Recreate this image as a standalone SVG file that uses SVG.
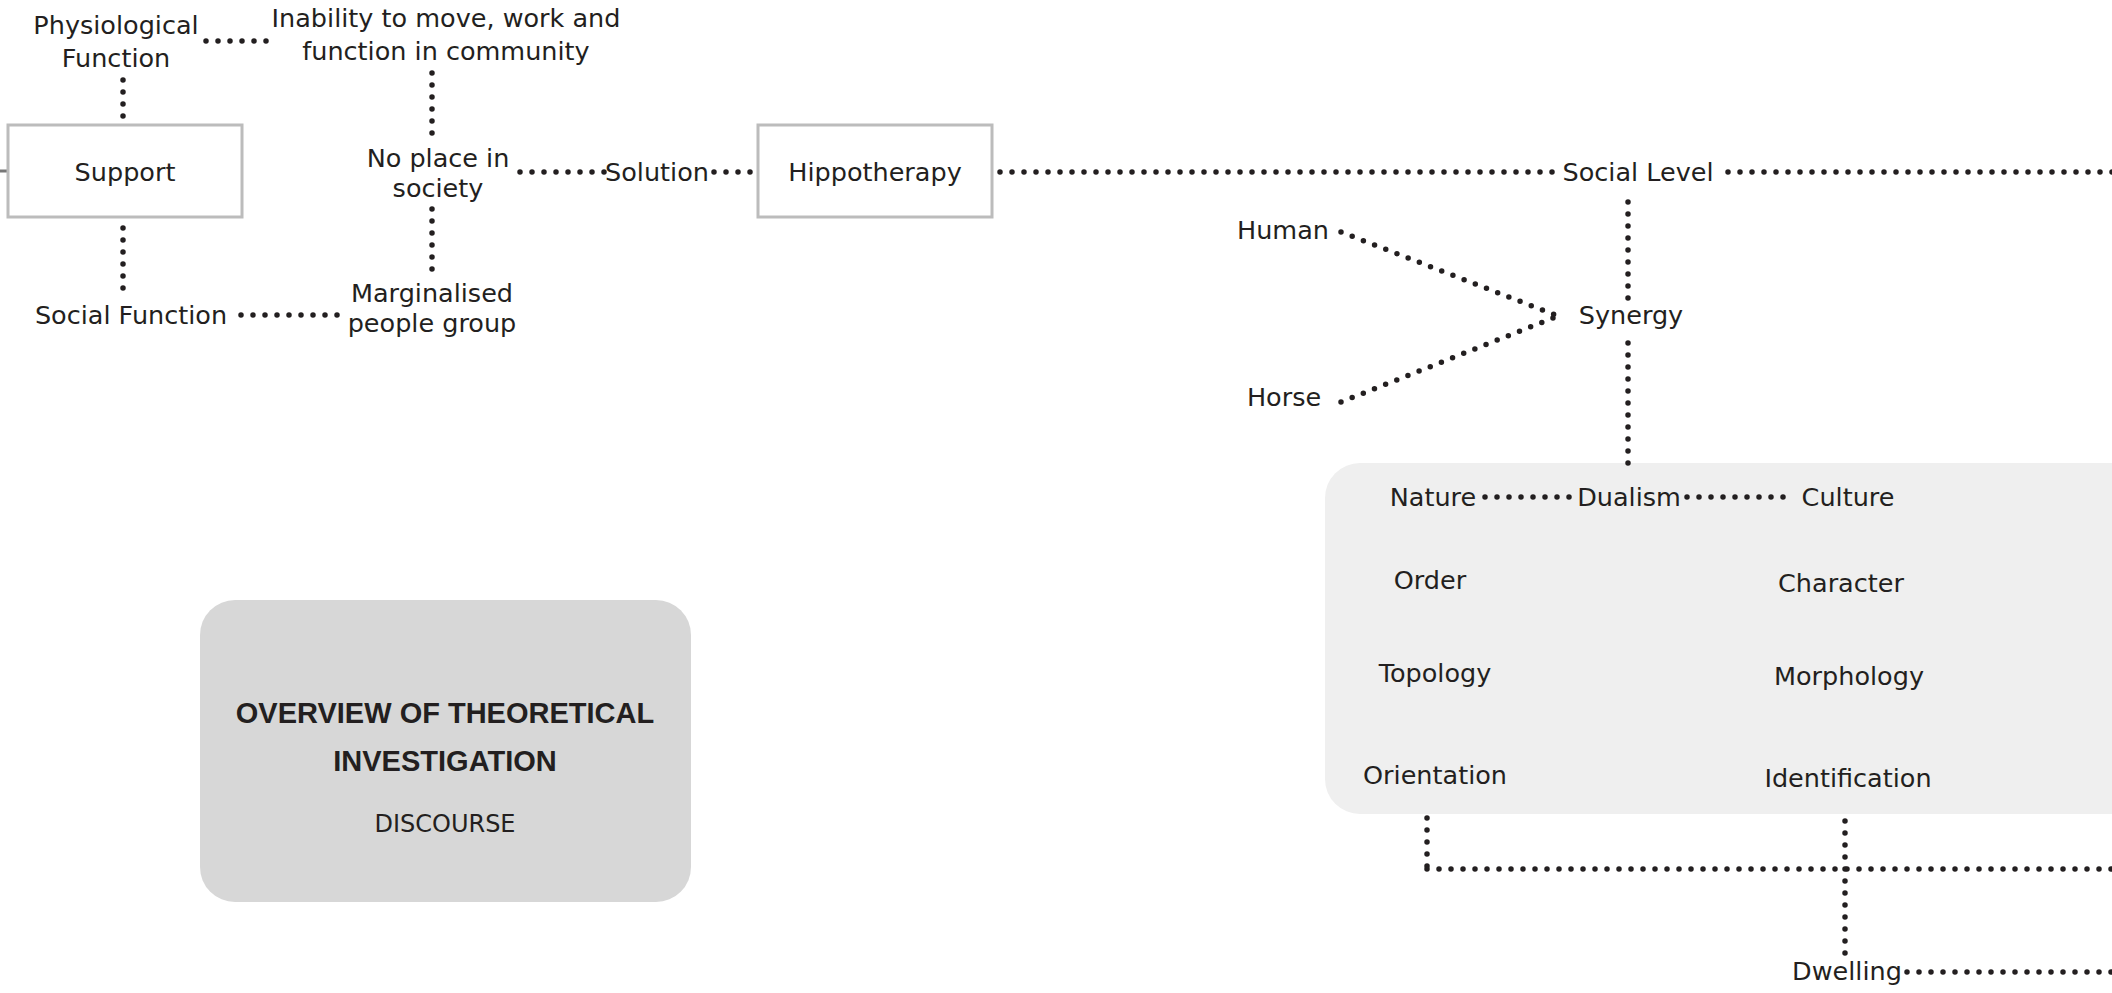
<svg xmlns="http://www.w3.org/2000/svg" width="2112" height="993" viewBox="0 0 2112 993">
  <style>
    .lbl { font-family: "DejaVu Sans", "Liberation Sans", sans-serif; font-size: 25.5px; fill: #231f20; text-anchor: middle; }
    .box { fill: #ffffff; stroke: #bcbcbc; stroke-width: 3; }
    .dot { fill: none; stroke: #231f20; stroke-width: 5.5; stroke-linecap: round; stroke-dasharray: 0 12; }
    .title { font-family: "Liberation Sans", "DejaVu Sans", sans-serif; font-weight: bold; font-size: 29px; fill: #231f20; text-anchor: middle; }
    .sub { font-family: "DejaVu Sans", "Liberation Sans", sans-serif; font-size: 24px; fill: #231f20; text-anchor: middle; }
  </style>
  <rect width="2112" height="993" fill="#ffffff"/>

  <!-- background panel holding the dualism grid -->
  <rect id="panel" x="1325" y="463" width="840" height="351" rx="35" ry="35" fill="#efefef"/>

  <!-- connectors: dotted lines, each ends 1px past its last dot so that dot is drawn -->
  <g id="connectors">
    <line x1="0" y1="171" x2="8" y2="171" stroke="#777777" stroke-width="3"/>
    <line class="dot" x1="206" y1="41" x2="271" y2="41"/>
    <line class="dot" x1="123" y1="80" x2="123" y2="117"/>
    <line class="dot" x1="123" y1="228" x2="123" y2="289"/>
    <line class="dot" x1="241" y1="315" x2="338" y2="315"/>
    <line class="dot" x1="432" y1="73" x2="432" y2="134"/>
    <line class="dot" x1="432" y1="209" x2="432" y2="270"/>
    <line class="dot" x1="520" y1="172" x2="605" y2="172"/>
    <line class="dot" x1="714" y1="172" x2="751" y2="172"/>
    <line class="dot" x1="1000" y1="172" x2="1553" y2="172"/>
    <line class="dot" x1="1728" y1="172" x2="2120" y2="172"/>
    <line class="dot" x1="1628" y1="202" x2="1628" y2="299"/>
    <line class="dot" x1="1341" y1="232" x2="1558" y2="316"/>
    <line class="dot" x1="1341" y1="402" x2="1558" y2="316"/>
    <line class="dot" x1="1628" y1="343" x2="1628" y2="464"/>
    <line class="dot" x1="1485" y1="497" x2="1574" y2="497"/>
    <line class="dot" x1="1687" y1="497" x2="1790" y2="497"/>
    <line class="dot" x1="1427" y1="818" x2="1427" y2="867"/>
    <line class="dot" x1="1427" y1="869" x2="2120" y2="869"/>
    <line class="dot" x1="1845" y1="821" x2="1845" y2="954"/>
    <line class="dot" x1="1907" y1="972" x2="2120" y2="972"/>
  </g>

  <!-- nodes -->
  <g id="physiological"><text class="lbl" x="116" y="34">Physiological</text><text class="lbl" x="116" y="67">Function</text></g>
  <g id="inability"><text class="lbl" x="446" y="27">Inability to move, work and</text><text class="lbl" x="446" y="60">function in community</text></g>
  <g id="support"><rect class="box" x="8" y="125" width="234" height="92"/><text class="lbl" x="125" y="181">Support</text></g>
  <g id="no-place"><text class="lbl" x="438" y="167">No place in</text><text class="lbl" x="438" y="197">society</text></g>
  <g id="social-function"><text class="lbl" x="131" y="324">Social Function</text></g>
  <g id="marginalised"><text class="lbl" x="432" y="302">Marginalised</text><text class="lbl" x="432" y="332">people group</text></g>
  <g id="solution"><text class="lbl" x="657" y="181">Solution</text></g>
  <g id="hippotherapy"><rect class="box" x="758" y="125" width="234" height="92"/><text class="lbl" x="875" y="181">Hippotherapy</text></g>
  <g id="social-level"><text class="lbl" x="1638" y="181">Social Level</text></g>
  <g id="human"><text class="lbl" x="1283" y="239">Human</text></g>
  <g id="horse"><text class="lbl" x="1284" y="406">Horse</text></g>
  <g id="synergy"><text class="lbl" x="1631" y="324">Synergy</text></g>
  <g id="nature"><text class="lbl" x="1433" y="506">Nature</text></g>
  <g id="dualism"><text class="lbl" x="1629" y="506">Dualism</text></g>
  <g id="culture"><text class="lbl" x="1848" y="506">Culture</text></g>
  <g id="order"><text class="lbl" x="1430" y="589">Order</text></g>
  <g id="character"><text class="lbl" x="1841" y="592">Character</text></g>
  <g id="topology"><text class="lbl" x="1435" y="682">Topology</text></g>
  <g id="morphology"><text class="lbl" x="1849" y="685">Morphology</text></g>
  <g id="orientation"><text class="lbl" x="1435" y="784">Orientation</text></g>
  <g id="identification"><text class="lbl" x="1848" y="787">Identification</text></g>
  <g id="dwelling"><text class="lbl" x="1847" y="980">Dwelling</text></g>

  <g id="overview">
    <rect x="200" y="600" width="491" height="302" rx="35" ry="35" fill="#d7d7d7"/>
    <text class="title" x="445" y="723">OVERVIEW OF THEORETICAL</text>
    <text class="title" x="445" y="771">INVESTIGATION</text>
    <text class="sub" x="445" y="832">DISCOURSE</text>
  </g>
</svg>
